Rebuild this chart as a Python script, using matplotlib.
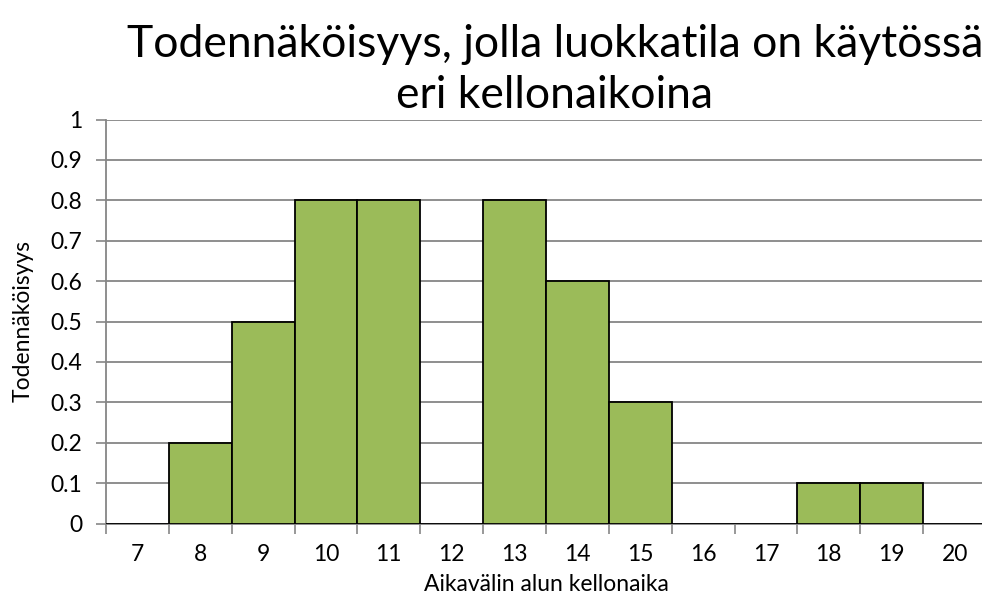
import numpy as np
import matplotlib.pyplot as plt

# aikavälin alun kellonaika ja todennäköisyys
hours = [7, 8, 9, 10, 11, 12, 13, 14, 15, 16, 17, 18, 19, 20]
probs = [0, 0.2, 0.5, 0.8, 0.8, 0, 0.8, 0.6, 0.3, 0, 0, 0.1, 0.1, 0]
yticks = [0, 0.1, 0.2, 0.3, 0.4, 0.5, 0.6, 0.7, 0.8, 0.9, 1]

plt.rcParams['font.family'] = ['Lato', 'DejaVu Sans']
gray = '#868686'

fig = plt.figure(figsize=(9.82, 6.01), dpi=100)
ax = fig.add_axes([106/982, 1 - 523.5/601, 880/982, 404/601])

x = np.arange(len(hours))
ax.bar(x, probs, width=1.0, color='#9BBB59', edgecolor='black', linewidth=1.3, zorder=3)

ax.set_xlim(-0.5, len(hours) - 0.5)
ax.set_ylim(0, 1)
ax.set_yticks(yticks)
ax.set_yticklabels([('%g' % v) for v in yticks], fontsize=16.5)
ax.set_xticks(x)
ax.set_xticklabels([str(h) for h in hours], fontsize=16.5)
ax.set_xticks(np.arange(len(hours) + 1) - 0.5, minor=True)
ax.tick_params(axis='x', which='major', length=0, pad=15)
ax.tick_params(axis='x', which='minor', length=7, width=1.2, color=gray, direction='out')
ax.tick_params(axis='y', length=7, width=1.2, color=gray, direction='out', pad=10)
ax.yaxis.grid(True, color=gray, linewidth=1.3, zorder=0)
ax.set_axisbelow(True)

for s in ['top', 'right']:
    ax.spines[s].set_visible(False)
for s in ['left', 'bottom']:
    ax.spines[s].set_color(gray)
    ax.spines[s].set_linewidth(1.3)

ax.set_xlabel('Aikavälin alun kellonaika', fontsize=16.5, labelpad=6)
ax.set_ylabel('Todennäköisyys', fontsize=16.5, labelpad=12)
ax.set_title('Todennäköisyys, jolla luokkatila on käytössä\neri kellonaikoina', fontsize=32,
             pad=8, linespacing=1.3, x=0.51)

fig.savefig('out.png', dpi=100)
